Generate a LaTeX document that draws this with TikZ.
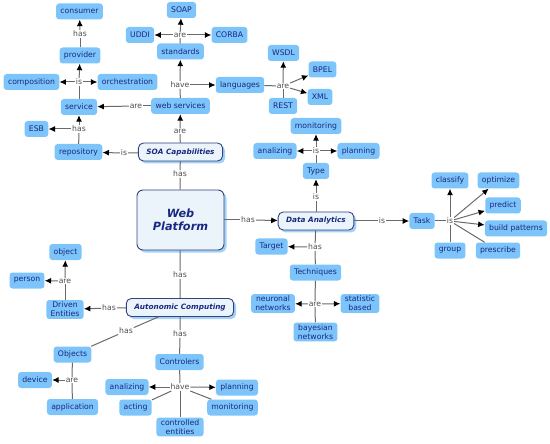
\documentclass[tikz,border=0pt]{standalone}
\usepackage{fontspec}
\setmainfont{DejaVu Sans}
\usetikzlibrary{arrows.meta,shadows}
\definecolor{conceptblue}{HTML}{7CC4FA}
\definecolor{conceptink}{HTML}{1A2880}
\definecolor{mainfill}{HTML}{EAF4FA}
\definecolor{mainborder}{HTML}{34437F}
\definecolor{mainshadow}{HTML}{A4D2F6}
\definecolor{linkgrey}{HTML}{4E4E4E}
\definecolor{linegrey}{HTML}{6A6A6A}
\tikzset{
	concept/.style={fill=conceptblue, text=conceptink, rounded corners=3pt, inner xsep=4.3pt, inner ysep=2pt, minimum height=16pt, align=center, font=\fontsize{7.7}{9}\selectfont},
	mainconcept/.style={draw=mainborder, fill=mainfill, text=conceptink, rounded corners=5pt, line width=0.9pt, inner xsep=8pt, minimum height=18pt, align=center, font=\fontsize{7.3}{9}\selectfont\bfseries\itshape, copy shadow={shadow xshift=2.5pt, shadow yshift=-2.5pt, fill=mainshadow, draw=none}},
	linkphrase/.style={fill=white, text=linkgrey, inner sep=0.8pt, font=\fontsize{7.7}{9}\selectfont},
	conn/.style={draw=linegrey, line width=1pt},
	toward/.style={conn, -{Latex[color=black, length=6.5pt, width=6pt]}}
}
\begin{document}
\begin{tikzpicture}[x=1pt, y=-1pt]
	\useasboundingbox (0,0) rectangle (550,444);
	
	\node[mainconcept, minimum width=87pt, minimum height=60pt, rounded corners=6pt, font=\fontsize{11.3}{13.5}\selectfont\bfseries\itshape] (web) at (180.5,220) {Web\\Platform};
	\node[mainconcept] (soa) at (180.5,152) {SOA Capabilities};
	\node[mainconcept] (data) at (316,221) {Data Analytics};
	\node[mainconcept] (auto) at (180,307.5) {Autonomic Computing};
	
	\node[concept] (consumer) at (79.5,11.5) {consumer};
	\node[concept] (soap) at (181.5,10) {SOAP};
	\node[concept] (uddi) at (140,35) {UDDI};
	\node[concept] (corba) at (229.5,35) {CORBA};
	\node[concept] (standards) at (180.5,51.5) {standards};
	\node[concept] (wsdl) at (283.5,53) {WSDL};
	\node[concept] (provider) at (80,55.5) {provider};
	\node[concept] (bpel) at (322.5,69.5) {BPEL};
	\node[concept] (composition) at (31.5,82) {composition};
	\node[concept] (orchestration) at (127.5,82) {orchestration};
	\node[concept] (languages) at (240,85) {languages};
	\node[concept] (xml) at (320,97) {XML};
	\node[concept] (service) at (79,107) {service};
	\node[concept] (websrv) at (180.5,106) {web services};
	\node[concept] (rest) at (283,106) {REST};
	\node[concept] (esb) at (36.5,129) {ESB};
	\node[concept] (repository) at (78.5,152) {repository};
	
	\node[concept] (monitorA) at (316,126) {monitoring};
	\node[concept] (analizA) at (275,151) {analizing};
	\node[concept] (planA) at (358.5,151) {planning};
	\node[concept] (type) at (316,171) {Type};
	\node[concept] (target) at (271.5,246.5) {Target};
	\node[concept] (techniques) at (315.5,272.5) {Techniques};
	\node[concept] (neuronal) at (273,303.5) {neuronal\\networks};
	\node[concept] (statistic) at (360,303.5) {statistic\\based};
	\node[concept] (bayesian) at (315.5,332) {bayesian\\networks};
	
	\node[concept] (task) at (422,221) {Task};
	\node[concept] (classify) at (450,180.5) {classify};
	\node[concept] (optimize) at (498.5,180.5) {optimize};
	\node[concept] (predict) at (503,205.5) {predict};
	\node[concept] (buildpat) at (516,228.5) {build patterns};
	\node[concept] (prescribe) at (498,250.5) {prescribe};
	\node[concept] (group) at (450,250.5) {group};
	
	\node[concept] (object) at (65.5,252) {object};
	\node[concept] (person) at (27,280.5) {person};
	\node[concept] (driven) at (65,309.5) {Driven\\Entities};
	\node[concept] (objects) at (72.5,354.5) {Objects};
	\node[concept] (device) at (35,380) {device};
	\node[concept] (application) at (72.5,407) {application};
	\node[concept] (controlers) at (179.5,362) {Controlers};
	\node[concept] (analizB) at (127,387) {analizing};
	\node[concept] (planB) at (237,387.5) {planning};
	\node[concept] (acting) at (135.5,407.5) {acting};
	\node[concept] (monitorB) at (232.5,407.5) {monitoring};
	\node[concept] (controlled) at (180,427) {controlled\\entities};
	
	\node[linkphrase] (hasCons) at (80,34) {has};
	\node[linkphrase] (areStd) at (180,35) {are};
	\node[linkphrase] (isServ) at (79,82) {is};
	\node[linkphrase] (haveWS) at (180,85) {have};
	\node[linkphrase] (areLang) at (283,86) {are};
	\node[linkphrase] (areWS) at (136,106) {are};
	\node[linkphrase] (hasRepo) at (79,129) {has};
	\node[linkphrase] (areSoa) at (180,131) {are};
	\node[linkphrase] (isSoa) at (124,153) {is};
	\node[linkphrase] (hasWebSoa) at (180,174) {has};
	\node[linkphrase] (hasWebData) at (248,220) {has};
	\node[linkphrase] (hasWebAuto) at (180,275) {has};
	\node[linkphrase] (isType) at (316,151) {is};
	\node[linkphrase] (isData) at (316,197) {is};
	\node[linkphrase] (isDataTask) at (382,221) {is};
	\node[linkphrase] (isTask) at (450,221) {is};
	\node[linkphrase] (hasTarget) at (315,247) {has};
	\node[linkphrase] (areTech) at (315,304) {are};
	\node[linkphrase] (areDriven) at (65,281) {are};
	\node[linkphrase] (hasDriven) at (109,308) {has};
	\node[linkphrase] (hasObj) at (126,331) {has};
	\node[linkphrase] (hasCtrl) at (180,334) {has};
	\node[linkphrase] (areObj) at (72,380) {are};
	\node[linkphrase] (haveCtrl) at (180,387) {have};
	
	\draw[conn] (web) -- (hasWebSoa) -- (soa);
	\draw[conn] (web) -- (hasWebAuto) -- (auto);
	\draw[conn] (web) -- (hasWebData);
	\draw[toward] (hasWebData) -- (data);
	
	\draw[conn] (soa) -- (isSoa);
	\draw[toward] (isSoa) -- (repository);
	\draw[conn] (soa) -- (areSoa);
	\draw[toward] (areSoa) -- (websrv);
	\draw[conn] (websrv) -- (areWS);
	\draw[toward] (areWS) -- (service);
	\draw[conn] (websrv) -- (haveWS);
	\draw[toward] (haveWS) -- (standards);
	\draw[toward] (haveWS) -- (languages);
	\draw[conn] (standards) -- (areStd);
	\draw[toward] (areStd) -- (soap);
	\draw[toward] (areStd) -- (uddi);
	\draw[toward] (areStd) -- (corba);
	\draw[conn] (languages) -- (areLang);
	\draw[toward] (areLang) -- (wsdl);
	\draw[toward] (areLang) -- (bpel);
	\draw[toward] (areLang) -- (xml);
	\draw[conn] (areLang) -- (rest);
	\draw[conn] (service) -- (isServ);
	\draw[toward] (isServ) -- (provider);
	\draw[toward] (isServ) -- (composition);
	\draw[toward] (isServ) -- (orchestration);
	\draw[conn] (provider) -- (hasCons);
	\draw[toward] (hasCons) -- (consumer);
	\draw[conn] (repository) -- (hasRepo);
	\draw[toward] (hasRepo) -- (service);
	\draw[toward] (hasRepo) -- (esb);
	
	\draw[conn] (data) -- (isData);
	\draw[toward] (isData) -- (type);
	\draw[conn] (type) -- (isType);
	\draw[toward] (isType) -- (monitorA);
	\draw[toward] (isType) -- (analizA);
	\draw[toward] (isType) -- (planA);
	\draw[conn] (data) -- (isDataTask);
	\draw[toward] (isDataTask) -- (task);
	\draw[conn] (task) -- (isTask);
	\draw[toward] (isTask) -- (classify);
	\draw[toward] (isTask) -- (optimize);
	\draw[toward] (isTask) -- (predict);
	\draw[toward] (isTask) -- (buildpat);
	\draw[conn] (isTask) -- (prescribe);
	\draw[conn] (isTask) -- (group);
	\draw[conn] (data) -- (hasTarget) -- (techniques);
	\draw[toward] (hasTarget) -- (target);
	\draw[conn] (techniques) -- (areTech);
	\draw[toward] (areTech) -- (neuronal);
	\draw[toward] (areTech) -- (statistic);
	\draw[conn] (areTech) -- (bayesian);
	
	\draw[conn] (auto) -- (hasDriven);
	\draw[toward] (hasDriven) -- (driven);
	\draw[conn] (driven) -- (areDriven);
	\draw[toward] (areDriven) -- (person);
	\draw[toward] (areDriven) -- (object);
	\draw[conn] (auto) -- (hasObj) -- (objects);
	\draw[conn] (objects) -- (areObj) -- (application);
	\draw[toward] (areObj) -- (device);
	\draw[conn] (auto) -- (hasCtrl) -- (controlers);
	\draw[conn] (controlers) -- (haveCtrl);
	\draw[toward] (haveCtrl) -- (analizB);
	\draw[toward] (haveCtrl) -- (planB);
	\draw[conn] (haveCtrl) -- (acting);
	\draw[conn] (haveCtrl) -- (monitorB);
	\draw[conn] (haveCtrl) -- (controlled);
\end{tikzpicture}
\end{document}
